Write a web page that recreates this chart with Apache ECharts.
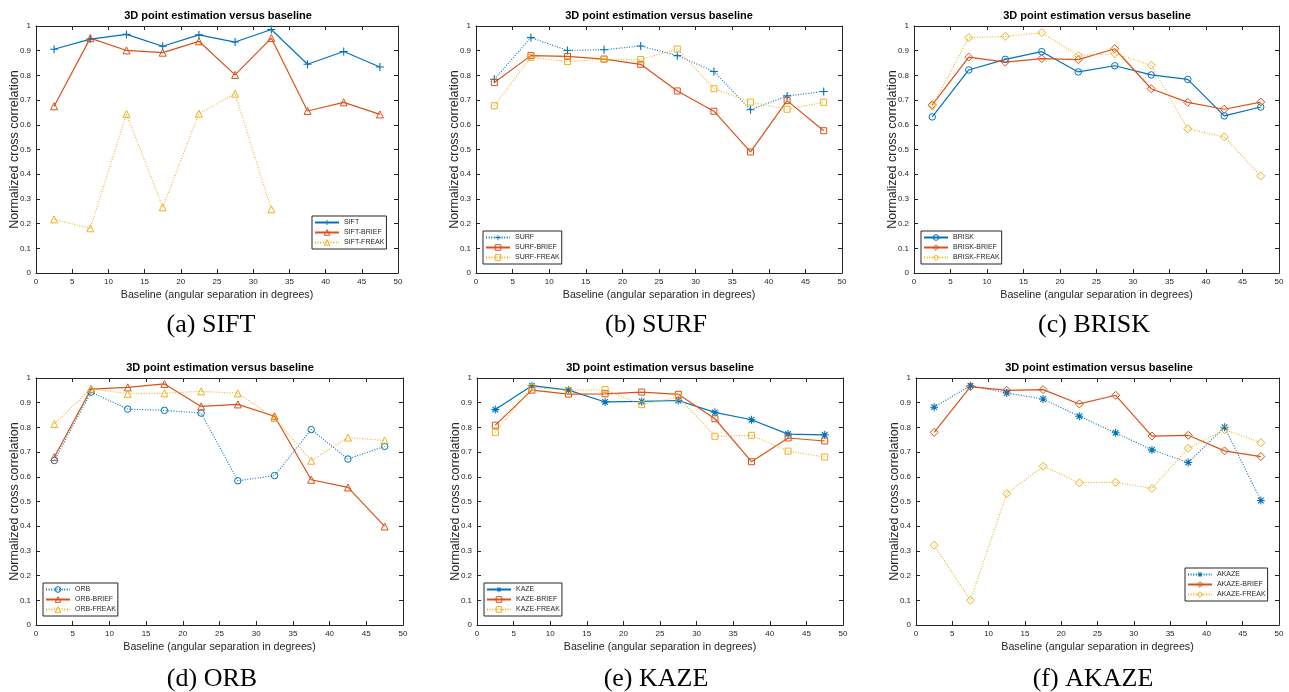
<!DOCTYPE html>
<html><head><meta charset="utf-8">
<script src="https://cdn.jsdelivr.net/npm/echarts@6/dist/echarts.min.js"></script>
<style>html,body{margin:0;padding:0;background:#fff}#c{width:1289px;height:692px}</style>
</head><body><div id="c"></div>
<script>
// ---------------- DATA ----------------
const baselines = [2.5, 7.5, 12.5, 17.5, 22.5, 27.5, 32.5, 37.5, 42.5, 47.5];
const xTickValues = [0, 5, 10, 15, 20, 25, 30, 35, 40, 45, 50];
const yTickValues = [0, 0.1, 0.2, 0.3, 0.4, 0.5, 0.6, 0.7, 0.8, 0.9, 1];

const sift      = [0.906, 0.947, 0.966, 0.918, 0.964, 0.935, 0.986, 0.845, 0.897, 0.834];
const siftBrief = [0.675, 0.951, 0.901, 0.892, 0.938, 0.802, 0.951, 0.656, 0.691, 0.642];
const siftFreak = [0.217, 0.181, 0.644, 0.266, 0.645, 0.726, 0.258, null, null, null];

const surf      = [0.784, 0.953, 0.901, 0.904, 0.919, 0.880, 0.816, 0.661, 0.717, 0.735];
const surfBrief = [0.771, 0.880, 0.877, 0.866, 0.845, 0.737, 0.655, 0.490, 0.698, 0.576];
const surfFreak = [0.677, 0.873, 0.856, 0.866, 0.864, 0.907, 0.746, 0.692, 0.663, 0.691];

const brisk      = [0.632, 0.822, 0.865, 0.896, 0.814, 0.839, 0.802, 0.784, 0.636, 0.672];
const briskBrief = [0.681, 0.874, 0.854, 0.868, 0.864, 0.908, 0.746, 0.691, 0.663, 0.692];
const briskFreak = [0.675, 0.953, 0.958, 0.973, 0.881, 0.888, 0.841, 0.584, 0.551, 0.393];

const orb      = [0.666, 0.943, 0.874, 0.869, 0.858, 0.584, 0.605, 0.791, 0.672, 0.723];
const orbBrief = [0.680, 0.955, 0.962, 0.976, 0.885, 0.893, 0.845, 0.588, 0.557, 0.399];
const orbFreak = [0.814, 0.957, 0.936, 0.938, 0.946, 0.938, 0.838, 0.665, 0.759, 0.747];

const kaze      = [0.872, 0.969, 0.951, 0.903, 0.905, 0.909, 0.861, 0.831, 0.773, 0.770];
const kazeBrief = [0.809, 0.951, 0.935, 0.936, 0.943, 0.934, 0.835, 0.661, 0.757, 0.745];
const kazeFreak = [0.780, 0.962, 0.950, 0.953, 0.892, 0.923, 0.764, 0.768, 0.704, 0.680];

const akaze      = [0.882, 0.969, 0.939, 0.915, 0.845, 0.778, 0.709, 0.658, 0.801, 0.504];
const akazeBrief = [0.780, 0.965, 0.950, 0.953, 0.895, 0.930, 0.765, 0.768, 0.705, 0.682];
const akazeFreak = [0.323, 0.100, 0.532, 0.643, 0.576, 0.578, 0.553, 0.716, 0.791, 0.738];

const chartTitle = '3D point estimation versus baseline';
const xName = 'Baseline (angular separation in degrees)';
const yName = 'Normalized cross correlation';
const captions = ['(a) SIFT', '(b) SURF', '(c) BRISK', '(d) ORB', '(e) KAZE', '(f) AKAZE'];

// ---------------- STYLE / LAYOUT ----------------
const BLUE = '#0072BD', ORANGE = '#D95319', YELLOW = '#EDB120';
const AX = '#262626';
const PLUS = 'path://M4.3,0H5.7V4.3H10V5.7H5.7V10H4.3V5.7H0V4.3H4.3Z';
const STAR = 'path://M4.35,0H5.65V4.35H10V5.65H5.65V10H4.35V5.65H0V4.35H4.35Z M1,2L2,1L9,8L8,9Z M8,1L9,2L2,9L1,8Z';
const DOT = [1, 1.6];

const panels = [
  { grid: {left: 36, top: 26, width: 362, height: 247}, legend: {left: 312, top: 216}, titleX: 218, capX: 211, capY: 325,
    series: [
      {name: 'SIFT', data: sift, color: BLUE, symbol: PLUS, size: 8, dotted: false},
      {name: 'SIFT-BRIEF', data: siftBrief, color: ORANGE, symbol: 'triangle', size: 7, dotted: false},
      {name: 'SIFT-FREAK', data: siftFreak, color: YELLOW, symbol: 'triangle', size: 7, dotted: true}]},
  { grid: {left: 476, top: 26, width: 366, height: 247}, legend: {left: 483, top: 231}, titleX: 659, capX: 656, capY: 325,
    series: [
      {name: 'SURF', data: surf, color: BLUE, symbol: PLUS, size: 8, dotted: true},
      {name: 'SURF-BRIEF', data: surfBrief, color: ORANGE, symbol: 'rect', size: 6, dotted: false},
      {name: 'SURF-FREAK', data: surfFreak, color: YELLOW, symbol: 'rect', size: 6, dotted: true}]},
  { grid: {left: 914, top: 26, width: 365, height: 247}, legend: {left: 921, top: 231}, titleX: 1097, capX: 1094, capY: 325,
    series: [
      {name: 'BRISK', data: brisk, color: BLUE, symbol: 'circle', size: 6.5, dotted: false},
      {name: 'BRISK-BRIEF', data: briskBrief, color: ORANGE, symbol: 'diamond', size: 8, dotted: false},
      {name: 'BRISK-FREAK', data: briskFreak, color: YELLOW, symbol: 'diamond', size: 8, dotted: true}]},
  { grid: {left: 36, top: 378, width: 367, height: 247}, legend: {left: 43, top: 583}, titleX: 220, capX: 212, capY: 679,
    series: [
      {name: 'ORB', data: orb, color: BLUE, symbol: 'circle', size: 6.5, dotted: true},
      {name: 'ORB-BRIEF', data: orbBrief, color: ORANGE, symbol: 'triangle', size: 7, dotted: false},
      {name: 'ORB-FREAK', data: orbFreak, color: YELLOW, symbol: 'triangle', size: 7, dotted: true}]},
  { grid: {left: 477, top: 378, width: 366, height: 247}, legend: {left: 484, top: 583}, titleX: 660, capX: 656, capY: 679,
    series: [
      {name: 'KAZE', data: kaze, color: BLUE, symbol: STAR, size: 8, dotted: false},
      {name: 'KAZE-BRIEF', data: kazeBrief, color: ORANGE, symbol: 'rect', size: 6, dotted: false},
      {name: 'KAZE-FREAK', data: kazeFreak, color: YELLOW, symbol: 'rect', size: 6, dotted: true}]},
  { grid: {left: 916, top: 378, width: 363, height: 247}, legend: {left: 1185, top: 568}, titleX: 1099, capX: 1093, capY: 679,
    series: [
      {name: 'AKAZE', data: akaze, color: BLUE, symbol: STAR, size: 8, dotted: true},
      {name: 'AKAZE-BRIEF', data: akazeBrief, color: ORANGE, symbol: 'diamond', size: 8, dotted: false},
      {name: 'AKAZE-FREAK', data: akazeFreak, color: YELLOW, symbol: 'diamond', size: 8, dotted: true}]}
];

const FONT = 'Liberation Sans, Arial, Helvetica, sans-serif';
const isPath = s => s.indexOf('path://') === 0;

function axisCommon(gridIndex) {
  return {
    gridIndex, type: 'value',
    axisLine: {show: true, onZero: false, lineStyle: {color: AX, width: 1}},
    axisTick: {show: true, inside: true, length: 4, lineStyle: {color: AX, width: 1}},
    splitLine: {show: false},
    axisLabel: {color: AX, fontSize: 8, fontFamily: FONT, margin: 5},
    nameTextStyle: {color: AX, fontFamily: FONT},
    nameMoveOverlap: false
  };
}

function markerStyle(s) {
  return isPath(s.symbol)
    ? {color: s.color, borderWidth: 0}
    : {color: 'rgba(255,255,255,0)', borderColor: s.color, borderWidth: 1};
}

const xAxes = [], yAxes = [], grids = [], legends = [], series = [], graphics = [];
panels.forEach((p, i) => {
  grids.push(Object.assign({outerBoundsMode: 'none', containLabel: false}, p.grid));
  const xMin = xTickValues[0], xMax = xTickValues[xTickValues.length - 1];
  const yMin = yTickValues[0], yMax = yTickValues[yTickValues.length - 1];
  const xInt = xTickValues[1] - xTickValues[0];
  xAxes.push(Object.assign(axisCommon(i), {position: 'bottom', min: xMin, max: xMax, interval: xInt,
    name: xName, nameLocation: 'middle', nameGap: 17, nameTextStyle: {color: AX, fontFamily: FONT, fontSize: 10.7}}));
  xAxes.push(Object.assign(axisCommon(i), {position: 'top', min: xMin, max: xMax, interval: xInt,
    axisLabel: {show: false}}));
  yAxes.push(Object.assign(axisCommon(i), {position: 'left', min: yMin, max: yMax, interval: 0.1,
    name: yName, nameLocation: 'middle', nameGap: 15, nameTextStyle: {color: AX, fontFamily: FONT, fontSize: 12.5}}));
  yAxes.push(Object.assign(axisCommon(i), {position: 'right', min: yMin, max: yMax, interval: 0.1,
    axisLabel: {show: false}}));

  legends.push({
    left: p.legend.left, top: p.legend.top, orient: 'vertical',
    data: p.series.map(s => ({name: s.name, itemStyle: markerStyle(s)})),
    itemWidth: 24, itemHeight: 7, itemGap: 3, padding: [3, 2, 3, 2],
    backgroundColor: '#fff', borderColor: AX, borderWidth: 1, borderRadius: 0,
    selectedMode: false,
    textStyle: {fontSize: 7, color: AX, fontFamily: FONT}
  });

  p.series.forEach(s => {
    series.push({
      type: 'line', name: s.name, xAxisIndex: 2 * i, yAxisIndex: 2 * i,
      data: baselines.map((x, k) => [x, s.data[k] == null ? '-' : s.data[k]]),
      symbol: s.symbol, symbolSize: s.size, showSymbol: true,
      lineStyle: {color: s.color, width: s.dotted ? 1.1 : 1.2, type: s.dotted ? DOT : 'solid'},
      itemStyle: markerStyle(s),
      emphasis: {disabled: true}, silent: true, animation: false
    });
  });

  graphics.push({type: 'text', x: p.titleX, y: p.grid.top - 10,
    style: {text: chartTitle, fill: '#000', font: 'bold 11px ' + FONT, align: 'center', verticalAlign: 'middle'}});
  graphics.push({type: 'text', x: p.capX, y: p.capY,
    style: {text: captions[i], fill: '#000', font: '26px Liberation Serif, Times New Roman, serif', align: 'center', verticalAlign: 'middle'}});
});

const chart = echarts.init(document.getElementById('c'), null, {renderer: 'canvas'});
chart.setOption({
  backgroundColor: '#fff',
  animation: false,
  grid: grids, xAxis: xAxes, yAxis: yAxes, legend: legends, series: series, graphic: graphics
});
</script>
</body></html>
